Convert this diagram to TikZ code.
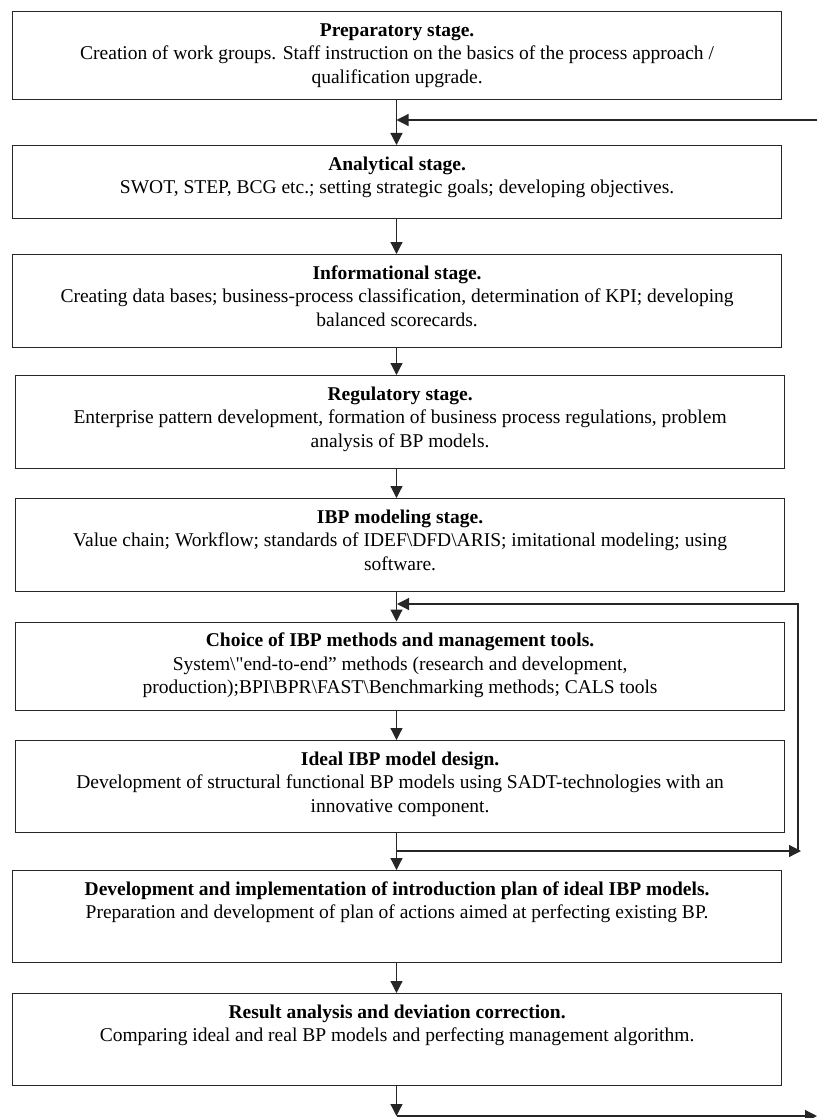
\documentclass[tikz,border=0pt]{standalone}
\usepackage{fontspec}
\setmainfont{Liberation Serif}
\usetikzlibrary{arrows.meta}
\newcommand\stagetext[4]{\parbox[c][#2pt][t]{#1pt}{\centering\rule{0pt}{24.5pt}\textbf{#3}\\#4\par}}
\begin{document}
\begin{tikzpicture}[x=1pt,y=-1pt,
  stage/.style={draw=black!85, line width=1.2pt, inner sep=0pt, anchor=north west, font=\fontsize{19.5}{23.5}\selectfont},
  arr/.style={draw=black!85, line width=1.2pt, -{Triangle[length=12pt,width=12pt]}}]
\useasboundingbox (0,0) rectangle (817,1118);

\node[stage] (b1) at (12,11) {\stagetext{769}{88}{Preparatory stage.}{Creation of work groups. Staff instruction on the basics of the process approach /\\qualification upgrade.}};
\node[stage] (b2) at (12,145) {\stagetext{769}{73}{Analytical stage.}{SWOT, STEP, BCG etc.; setting strategic goals; developing objectives.}};
\node[stage] (b3) at (12,254) {\stagetext{769}{92.5}{Informational stage.}{Creating data bases; business-process classification, determination of KPI; developing\\balanced scorecards.}};
\node[stage] (b4) at (15,375) {\stagetext{769}{92.5}{Regulatory stage.}{Enterprise pattern development, formation of business process regulations, problem\\analysis of BP models.}};
\node[stage] (b5) at (15,498) {\stagetext{769}{93}{IBP modeling stage.}{Value chain; Workflow; standards of IDEF\textbackslash DFD\textbackslash ARIS; imitational modeling; using\\software.}};
\node[stage] (b6) at (15,621.5) {\stagetext{769}{88.5}{Choice of IBP methods and management tools.}{System\textbackslash\textquotedbl end-to-end” methods (research and development,\\production);BPI\textbackslash BPR\textbackslash FAST\textbackslash Benchmarking methods; CALS tools}};
\node[stage] (b7) at (15,740) {\stagetext{769}{92}{Ideal IBP model design.}{Development of structural functional BP models using SADT-technologies with an\\innovative component.}};
\node[stage] (b8) at (12,870) {\stagetext{769}{92}{Development and implementation of introduction plan of ideal IBP models.}{Preparation and development of plan of actions aimed at perfecting existing BP.}};
\node[stage] (b9) at (12,993) {\stagetext{769}{92}{Result analysis and deviation correction.}{Comparing ideal and real BP models and perfecting management algorithm.}};

\coordinate (ax) at (396.5,0);
\coordinate (f1s) at (817,120);
\coordinate (f1e) at (396.5,120);
\coordinate (r2) at (798,604);
\coordinate (j2) at (397,604);
\coordinate (j3) at (396.5,851);
\coordinate (r3) at (801,851);
\coordinate (bt) at (396.5,1116);
\coordinate (br) at (817,1116);

\draw[arr] (b1.south -| ax) -- (b2.north -| ax);
\draw[arr] (f1s) -- (f1e);
\draw[arr] (b2.south -| ax) -- (b3.north -| ax);
\draw[arr] (b3.south -| ax) -- (b4.north -| ax);
\draw[arr] (b4.south -| ax) -- (b5.north -| ax);
\draw[arr] (b5.south -| ax) -- (b6.north -| ax);
\draw[arr] (r3 -| r2) -- (r2) -- (j2);
\draw[arr] (b6.south -| ax) -- (b7.north -| ax);
\draw[arr] (b7.south -| ax) -- (b8.north -| ax);
\draw[arr] (j3) -- (r3);
\draw[arr] (b8.south -| ax) -- (b9.north -| ax);
\draw[arr] (b9.south -| ax) -- (bt);
\draw[arr] (bt) -- (br);
\end{tikzpicture}
\end{document}
